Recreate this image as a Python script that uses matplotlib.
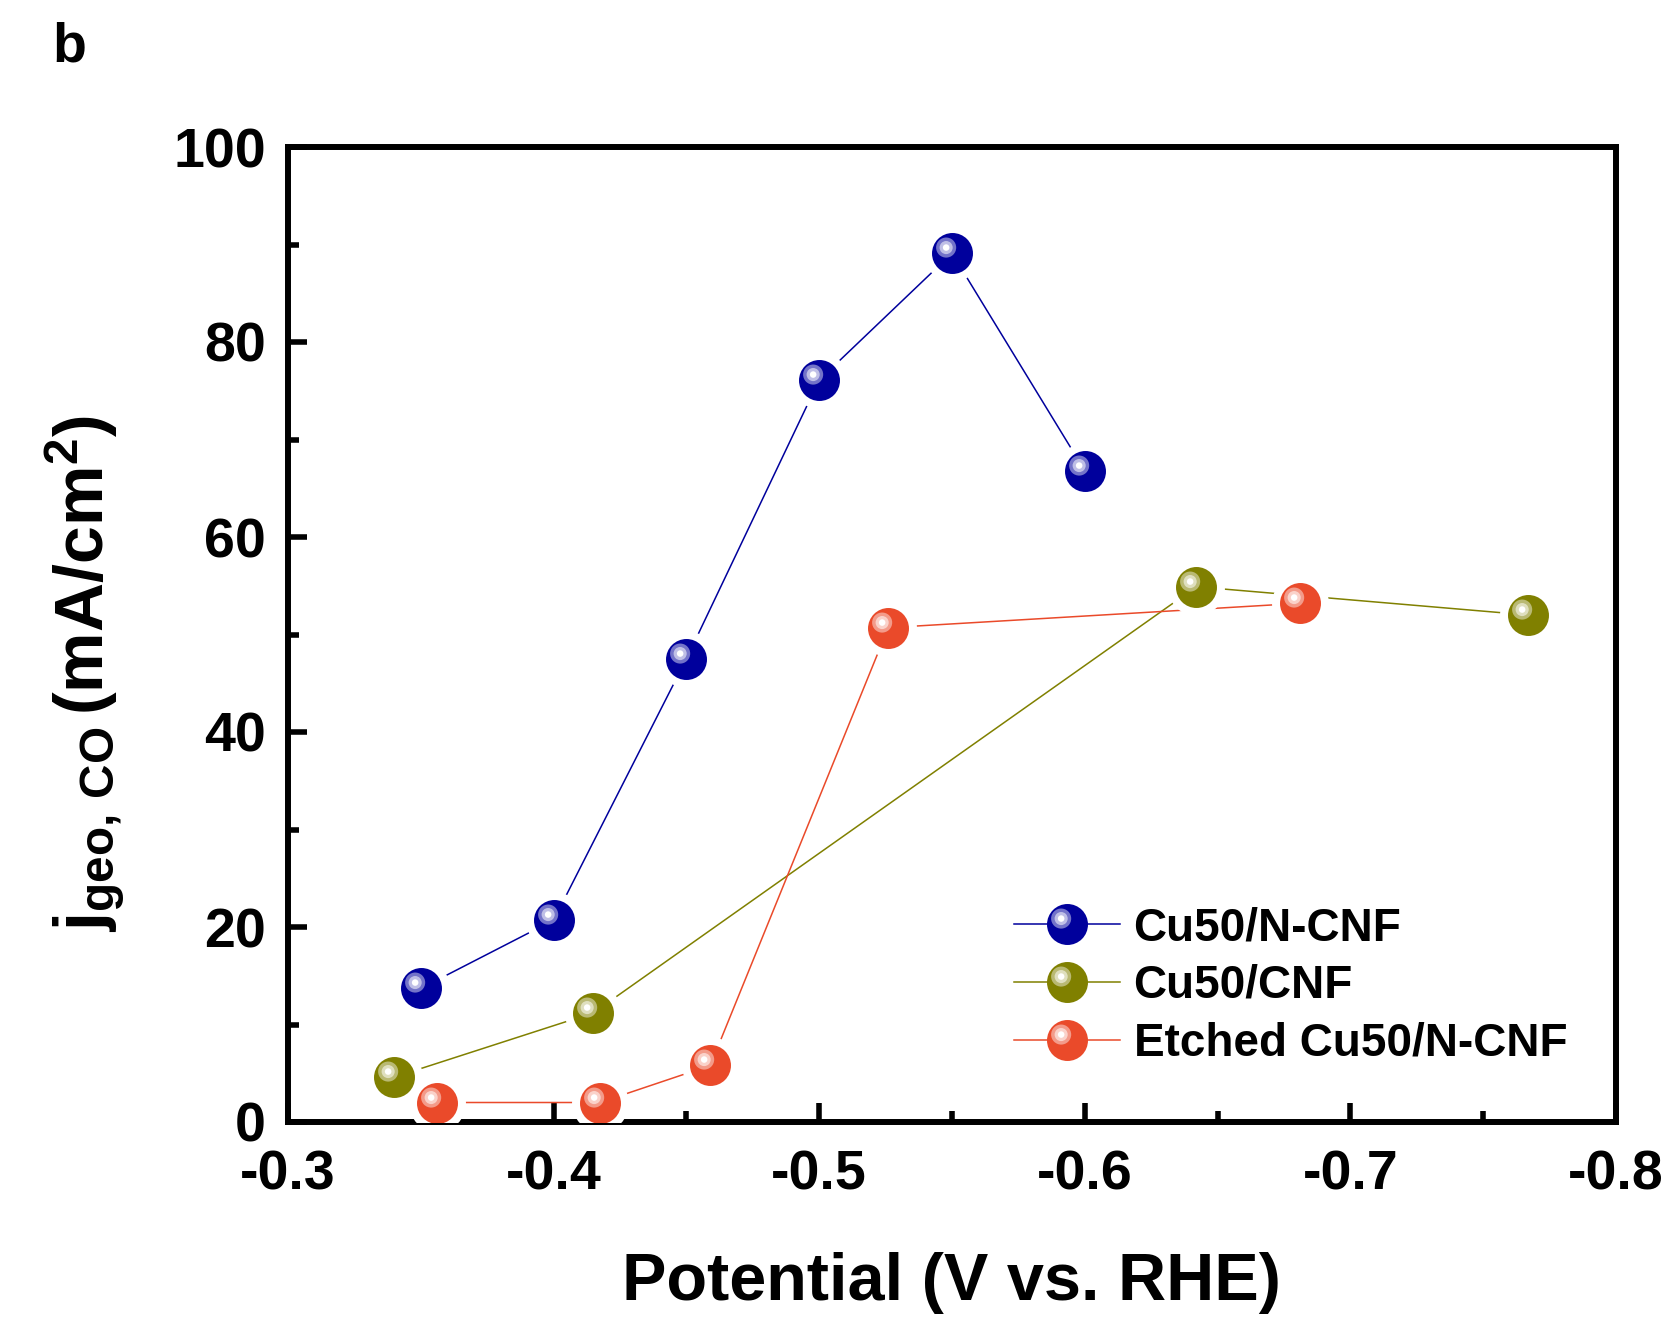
import numpy as np
import matplotlib
matplotlib.use("Agg")
import matplotlib.pyplot as plt
from matplotlib.path import Path
from matplotlib.legend_handler import HandlerTuple
from matplotlib.colors import to_rgb

plt.rcParams['font.family'] = ['Liberation Sans', 'DejaVu Sans']
plt.rcParams['font.weight'] = 'bold'
plt.rcParams['mathtext.fontset'] = 'custom'
plt.rcParams['mathtext.rm'] = 'Liberation Sans:bold'
plt.rcParams['mathtext.bf'] = 'Liberation Sans:bold'
plt.rcParams['mathtext.it'] = 'Liberation Sans:bold'

# data
labels = ['Cu50/N-CNF', 'Cu50/CNF', 'Etched Cu50/N-CNF']
colors = ['#00009C', '#808000', '#EA4A2A']

x_ncnf = [-0.35, -0.40, -0.45, -0.50, -0.55, -0.60]
y_ncnf = [13.7, 20.7, 47.5, 76.1, 89.1, 66.8]

x_cnf = [-0.34, -0.415, -0.642, -0.767]
y_cnf = [4.6, 11.2, 54.9, 52.0]

x_etch = [-0.356, -0.4175, -0.459, -0.526, -0.681]
y_etch = [2.0, 2.0, 5.8, 50.7, 53.2]

series = [(x_ncnf, y_ncnf), (x_cnf, y_cnf), (x_etch, y_etch)]

MS = 29.5      # marker diameter in pt
HALO = 41      # white gap around markers


def spot(cx, cy, r):
    # circle offset from marker centre; the lone MOVETO keeps the scale fixed
    c = Path.circle((cx, cy), r)
    verts = np.vstack([[[1.0, 0.0]], c.vertices])
    codes = np.concatenate([[Path.MOVETO], c.codes])
    return Path(verts, codes)


spot1 = spot(-0.31, 0.29, 0.49)
spot2 = spot(-0.31, 0.29, 0.32)
spot3 = spot(-0.31, 0.29, 0.16)


def mix(c, f):
    r = np.array(to_rgb(c))
    return tuple(r + (1 - r) * f)


fig = plt.figure(figsize=(16.77, 13.21), dpi=100)
ax = fig.add_axes([288/1677, 1 - 1122/1321, (1616-288)/1677, (1122-147)/1321])

handles = []
for (xs, ys), col, lab in zip(series, colors, labels):
    ln, = ax.plot(xs, ys, '-', color=col, lw=1.1, zorder=2)
    ax.plot(xs, ys, 'o', ls='none', ms=HALO, mfc='white', mec='none', zorder=3)
    base, = ax.plot(xs, ys, 'o', ls='none', ms=MS, mfc=col, mec='none', zorder=4)
    h1, = ax.plot(xs, ys, marker=spot1, ls='none', ms=MS, mfc=mix(col, 0.45), mec='none', zorder=5)
    h2, = ax.plot(xs, ys, marker=spot2, ls='none', ms=MS, mfc=mix(col, 0.75), mec='none', zorder=6)
    h3, = ax.plot(xs, ys, marker=spot3, ls='none', ms=MS, mfc='white', mec='none', zorder=7)
    handles.append((ln, base, h1, h2, h3))

ax.set_xlim(-0.3, -0.8)
ax.set_ylim(0, 100)
ax.set_xticks([-0.3, -0.4, -0.5, -0.6, -0.7, -0.8])
ax.set_xticks(np.arange(-0.35, -0.8, -0.1), minor=True)
ax.set_xticklabels(['-0.3', '-0.4', '-0.5', '-0.6', '-0.7', '-0.8'])
ax.set_yticks(np.arange(0, 101, 20))
ax.set_yticks(np.arange(10, 100, 20), minor=True)

ax.tick_params(which='both', direction='in', width=4, labelsize=40, top=False, right=False)
ax.tick_params(which='major', length=14, pad=16)
ax.tick_params(axis='x', which='major', pad=20)
ax.tick_params(which='minor', length=8)
for sp in ax.spines.values():
    sp.set_linewidth(4.3)

ax.set_xlabel('Potential (V vs. RHE)', fontsize=48, fontweight='bold', labelpad=36)
ax.set_ylabel(r'$\mathbf{j_{geo,\,CO}}\,$(mA/cm$^\mathbf{2}$)', fontsize=49,
              fontweight='bold')
ax.yaxis.set_label_coords(-0.121, 0.46)

ax.legend(handles, labels, handler_map={tuple: HandlerTuple(ndivide=1, pad=0)},
          loc='lower right', bbox_to_anchor=(0.977, 0.039), frameon=False,
          fontsize=33, handlelength=2.3, labelspacing=0.3, handletextpad=0.3,
          borderaxespad=0)

fig.text(52/1677, 1 - 47/1321, 'b', fontsize=40, fontweight='bold', va='center')

fig.savefig('out.png', dpi=100)
